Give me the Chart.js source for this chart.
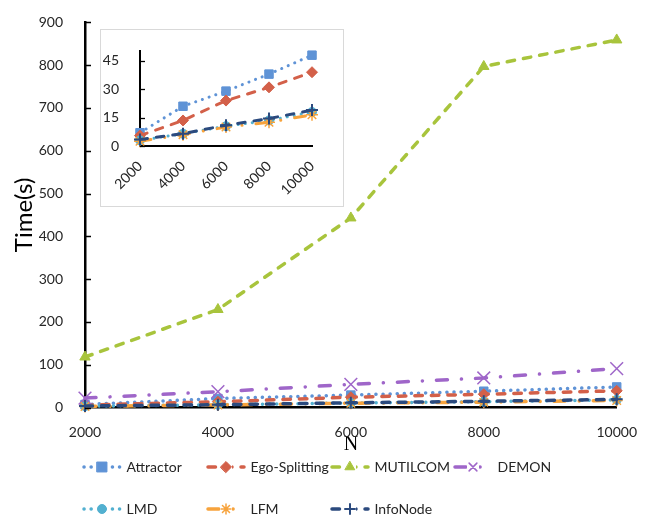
<!DOCTYPE html>
<html>
<head>
<meta charset="utf-8">
<script src="https://cdn.jsdelivr.net/npm/chart.js@4.4.1/dist/chart.umd.min.js"></script>
<style>
  html, body { margin: 0; padding: 0; background: #fff; }
  #wrap { position: relative; width: 646px; height: 515px; }
  #main { position: absolute; left: 0; top: 0; }
  #insetBox { position: absolute; left: 100px; top: 29px; width: 242px; height: 176px;
              border: 1px solid #d9d9d9; background: #fff; }
  #inset { position: absolute; left: 0; top: 0; }
</style>
</head>
<body>
<div id="wrap">
  <canvas id="main" width="646" height="515"></canvas>
  <div id="insetBox"><canvas id="inset" width="242" height="176"></canvas></div>
</div>
<script>
// Network size N
const categories = [2000, 4000, 6000, 8000, 10000];

// Running time (s) of each method
const attractor    = [7, 21, 29, 38, 48];
const egoSplitting = [5.5, 13.5, 24, 31, 39];
const mutilcom     = [118, 229, 443, 797, 859];
const demon        = [22, 37, 54, 69, 91];
const lmd          = [3, 6.5, 10.5, 13.5, 18];
const lfm          = [2.5, 6, 10, 12.5, 16.5];
const infoNode     = [3.5, 6.5, 11, 14.5, 19];

const seriesNames = ['Attractor', 'Ego-Splitting', 'MUTILCOM', 'DEMON', 'LMD', 'LFM', 'InfoNode'];
const seriesValues = [attractor, egoSplitting, mutilcom, demon, lmd, lfm, infoNode];

// Tick labels
const mainYTicks = [0, 100, 200, 300, 400, 500, 600, 700, 800, 900];
const insetYTicks = [0, 15, 30, 45];

// Line / marker look of each series (lr = marker radius in the legend key)
const DOT = [0.1, 7];
const DASH = [7.5, 9];
const DASHDOT = [11, 14, 0.1, 14];
const styles = [
  { color: '#5f93d6', dash: DOT,     point: 'rect',     radius: 6,   pw: 1,   lr: 7 },
  { color: '#d36049', dash: DASH,    point: 'rectRot',  radius: 5.5, pw: 1,   lr: 5.5 },
  { color: '#a8c43c', dash: DASH,    point: 'triangle', radius: 6,   pw: 1,   lr: 5.5 },
  { color: '#9f66c9', dash: DASHDOT, point: 'crossRot', radius: 9,   pw: 1.5, lr: 5.5 },
  { color: '#52b0d0', dash: DOT,     point: 'circle',   radius: 4.5, pw: 1,   lr: 4.5 },
  { color: '#f7a33c', dash: DASHDOT, point: 'star',     radius: 6,   pw: 1.5, lr: 5 },
  { color: '#2b4a7e', dash: DASH,    point: 'cross',    radius: 6,   pw: 2,   lr: 5 }
];

function makeDatasets(indices, lineWidth) {
  return indices.map(i => {
    const s = styles[i];
    return {
      label: seriesNames[i],
      data: categories.map((x, k) => ({ x: x, y: seriesValues[i][k] })),
      borderColor: s.color,
      backgroundColor: s.color,
      borderWidth: lineWidth,
      borderDash: s.dash,
      borderCapStyle: 'round',
      pointStyle: s.point,
      pointRadius: s.radius,
      pointBackgroundColor: s.color,
      pointBorderColor: s.color,
      pointBorderWidth: s.pw,
      pointHoverRadius: s.radius,
      tension: 0,
      clip: false,
      order: 10 - i
    };
  });
}

const TEXT = '#262626';
const SANS = 'Lato, "Open Sans", sans-serif';

// Small inward tick marks on the value axis
const innerTicks = {
  id: 'innerTicks',
  afterDraw(chart, args, opts) {
    const ctx = chart.ctx, y = chart.scales.y, x0 = chart.chartArea.left;
    ctx.save();
    ctx.strokeStyle = '#000';
    ctx.lineWidth = opts.width || 1.5;
    y.ticks.forEach(t => {
      const py = Math.round(y.getPixelForValue(t.value)) + 0.5;
      ctx.beginPath();
      ctx.moveTo(x0, py);
      ctx.lineTo(x0 + (opts.len || 6), py);
      ctx.stroke();
    });
    ctx.restore();
  }
};

// Legend laid out in a fixed grid under the plot
const gridLegend = {
  id: 'gridLegend',
  afterDraw(chart) {
    const ctx = chart.ctx;
    const cols = [83, 207, 331, 454];
    const rows = [467, 509];
    chart.data.datasets.forEach((ds, i) => {
      const s = styles[i];
      const x0 = cols[i % 4], y = rows[Math.floor(i / 4)];
      ctx.save();
      ctx.strokeStyle = s.color;
      ctx.lineWidth = 3.5;
      ctx.lineCap = 'round';
      ctx.setLineDash(s.dash);
      ctx.beginPath();
      ctx.moveTo(x0 + 1, y);
      ctx.lineTo(x0 + 37, y);
      ctx.stroke();
      ctx.setLineDash([]);
      // clear behind the marker like a legend key
      ctx.fillStyle = '#fff';
      ctx.fillRect(x0 + 13, y - 5, 12, 10);
      ctx.fillStyle = s.color;
      ctx.strokeStyle = s.color;
      ctx.lineWidth = s.pw;
      Chart.helpers.drawPoint(ctx, { pointStyle: s.point, rotation: 0, radius: s.lr, borderWidth: s.pw }, x0 + 19, y);
      ctx.fillStyle = TEXT;
      ctx.font = '14px ' + SANS;
      ctx.textBaseline = 'middle';
      ctx.textAlign = 'left';
      ctx.fillText(ds.label, x0 + 43.5, y);
      ctx.restore();
    });
  }
};

new Chart(document.getElementById('main'), {
  type: 'line',
  data: { datasets: makeDatasets([0, 1, 2, 3, 4, 5, 6], 3.5) },
  options: {
    responsive: false,
    animation: false,
    events: [],
    layout: { padding: { left: 0, top: 19.5, right: 23, bottom: 58 } },
    plugins: { legend: { display: false }, tooltip: { enabled: false }, innerTicks: { len: 6, width: 1.5 } },
    scales: {
      x: {
        type: 'linear', min: 2000, max: 10000,
        afterBuildTicks: s => { s.ticks = categories.map(v => ({ value: v })); },
        afterFit: s => { s.height = 49.5; },
        grid: { display: false },
        border: { display: true, color: '#000', width: 2.5 },
        ticks: { color: TEXT, font: { family: SANS, size: 14 }, padding: 9, maxRotation: 0, callback: v => String(v) },
        title: { display: true, text: 'N', color: '#000', font: { family: '"Liberation Serif", serif', size: 20 }, padding: { top: 0, bottom: 0 } }
      },
      y: {
        type: 'linear', min: 0, max: 900,
        afterBuildTicks: s => { s.ticks = mainYTicks.map(v => ({ value: v })); },
        afterFit: s => { s.width = 85; },
        grid: { display: false },
        border: { display: true, color: '#000', width: 2.5 },
        ticks: { color: TEXT, font: { family: SANS, size: 14 }, padding: 14 },
        title: { display: true, text: 'Time(s)', color: '#000', font: { family: SANS, size: 24 }, padding: { top: 10, bottom: 0 } }
      }
    }
  },
  plugins: [innerTicks, gridLegend]
});

new Chart(document.getElementById('inset'), {
  type: 'line',
  data: { datasets: makeDatasets([0, 1, 4, 5, 6], 3) },
  options: {
    responsive: false,
    animation: false,
    events: [],
    layout: { padding: { left: 0, top: 18, right: 31, bottom: 0 } },
    plugins: { legend: { display: false }, tooltip: { enabled: false }, innerTicks: { len: 5, width: 1.3 } },
    scales: {
      x: {
        type: 'linear', min: 2000, max: 10000,
        afterBuildTicks: s => { s.ticks = categories.map(v => ({ value: v })); },
        afterFit: s => { s.height = 60; },
        grid: { display: false },
        border: { display: true, color: '#000', width: 2 },
        ticks: { color: TEXT, font: { family: SANS, size: 14 }, padding: 4, minRotation: 45, maxRotation: 45, callback: v => String(v) }
      },
      y: {
        type: 'linear', min: 0, max: 50,
        afterBuildTicks: s => { s.ticks = insetYTicks.map(v => ({ value: v })); },
        afterFit: s => { s.width = 39; },
        grid: { display: false },
        border: { display: true, color: '#000', width: 2 },
        ticks: { color: TEXT, font: { family: SANS, size: 14 }, padding: 13 }
      }
    }
  },
  plugins: [innerTicks]
});
</script>
</body>
</html>
